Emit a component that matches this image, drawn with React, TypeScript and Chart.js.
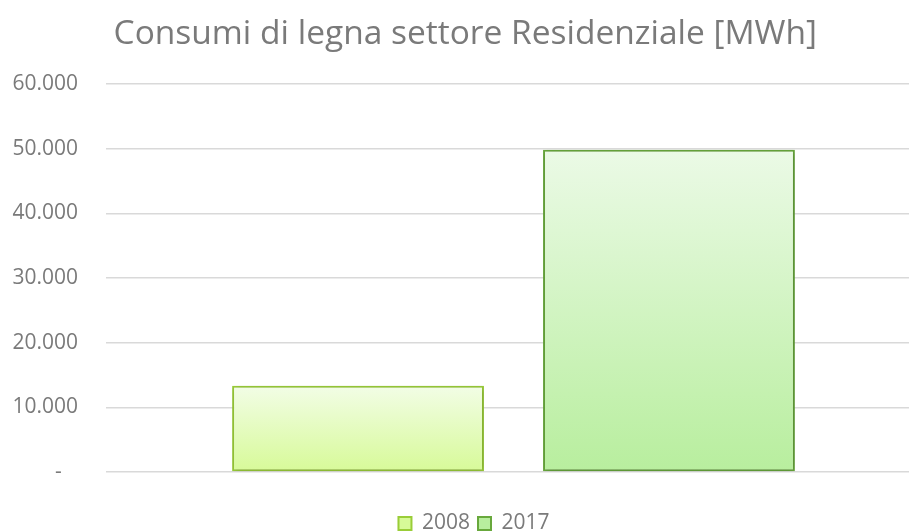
import React, { useEffect, useRef } from "react";
import { Chart, registerables } from "chart.js";

Chart.register(...registerables);

const categories = ["Residenziale"];
const seriesNames = ["2008", "2017"];
const values2008 = [13350];
const values2017 = [49850];
const yTicks = [0, 10000, 20000, 30000, 40000, 50000, 60000];
const titleText = "Consumi di legna settore Residenziale [MWh]";

const FONT = "'Open Sans', sans-serif";
const TEXT = "#7a7a7a";

function fmt(v: number): string {
  if (v === 0) return "-   ";
  return v.toLocaleString("de-DE");
}

function makeGradient(top: string, bottom: string, mid: string) {
  return (ctx: any) => {
    const chart = ctx.chart;
    const y = chart.scales?.y;
    if (!y || !ctx.parsed || ctx.type !== "data") return mid;
    const yTop = y.getPixelForValue(ctx.parsed.y);
    const yBase = y.getPixelForValue(0);
    if (!isFinite(yTop) || !isFinite(yBase) || yTop === yBase) return mid;
    const g = chart.ctx.createLinearGradient(0, yTop, 0, yBase);
    g.addColorStop(0, top);
    g.addColorStop(1, bottom);
    return g;
  };
}

const shadowPlugin = {
  id: "barShadow",
  beforeDatasetsDraw(chart: any) {
    const c = chart.ctx;
    c.save();
    c.shadowColor = "rgba(0,0,0,0.22)";
    c.shadowBlur = 6;
    c.shadowOffsetX = 1;
    c.shadowOffsetY = 1;
  },
  afterDatasetsDraw(chart: any) {
    chart.ctx.restore();
  },
};

export default function App() {
  const ref = useRef<HTMLCanvasElement>(null);
  useEffect(() => {
    if (!ref.current) return;
    const chart = new Chart(ref.current, {
      type: "bar",
      data: {
        labels: categories,
        datasets: [
          {
            label: seriesNames[0],
            data: values2008,
            backgroundColor: makeGradient("#f2fde6", "#d7fa98", "#e6fcc4"),
            borderColor: "#9acd38",
            borderWidth: 2,
            borderSkipped: false,
          },
          {
            label: seriesNames[1],
            data: values2017,
            backgroundColor: makeGradient("#ebfae6", "#b8ee9e", "#d2f5c6"),
            borderColor: "#68a83c",
            borderWidth: 2,
            borderSkipped: false,
          },
        ],
      },
      plugins: [shadowPlugin],
      options: {
        animation: false,
        responsive: false,
        maintainAspectRatio: false,
        layout: { padding: { left: 0, right: 0, top: 0, bottom: -12 } },
        datasets: {
          bar: { categoryPercentage: 0.763, barPercentage: 0.81 },
        },
        plugins: {
          title: {
            display: true,
            text: titleText + "  ",
            color: TEXT,
            font: { family: FONT, size: 33.5, weight: "normal" },
            padding: { top: 14, bottom: 30 },
          },
          legend: {
            display: true,
            position: "bottom",
            labels: {
              color: TEXT,
              font: { family: FONT, size: 21 },
              boxWidth: 13,
              boxHeight: 13,
              padding: 8,
            },
          },
          tooltip: { enabled: false },
        },
        scales: {
          x: {
            display: true,
            ticks: { display: false },
            grid: { display: false },
            border: { display: false },
            afterFit: (s: any) => {
              s.height = 33;
            },
          },
          y: {
            position: "left",
            min: 0,
            max: 60000,
            afterBuildTicks: (s: any) => {
              s.ticks = yTicks.map((v) => ({ value: v }));
            },
            ticks: {
              color: TEXT,
              font: { family: FONT, size: 21 },
              padding: 28,
              callback: (v: any) => fmt(Number(v)),
            },
            grid: { color: "#d9d9d9", lineWidth: 1.5, drawTicks: false },
            border: { display: false },
            afterFit: (s: any) => {
              s.width = 106;
            },
          },
          yRight: {
            type: "linear",
            position: "right",
            display: true,
            ticks: { display: false },
            grid: { display: false },
            border: { display: false },
            afterFit: (s: any) => {
              s.width = 27;
            },
          },
        },
      },
    });
    return () => chart.destroy();
  }, []);
  return (
    <div
      style={{
        position: "fixed",
        left: 0,
        top: 0,
        width: 909,
        height: 532,
        overflow: "hidden",
        background: "#fff",
      }}
    >
      <canvas ref={ref} width={948} height={532} style={{ display: "block" }} />
    </div>
  );
}
